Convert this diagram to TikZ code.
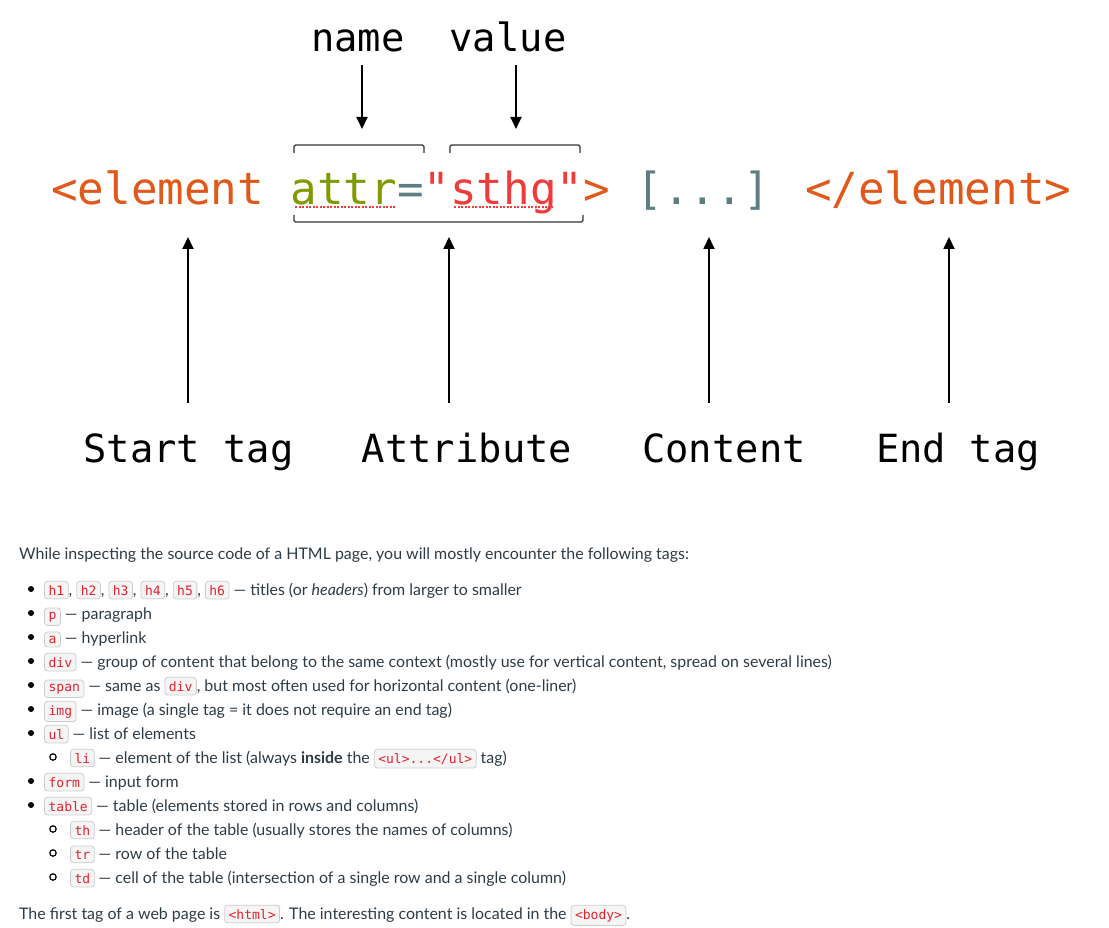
\documentclass[tikz,border=0pt]{standalone}
\usepackage{fontspec}
\setmainfont{Lato}
\newfontfamily\codefont{DejaVu Sans Mono}
\usetikzlibrary{arrows.meta}
\definecolor{tagorange}{HTML}{E0591A}
\definecolor{attrgreen}{HTML}{7E9C00}
\definecolor{valred}{HTML}{F03B3B}
\definecolor{punct}{HTML}{5E7E84}
\definecolor{bodytext}{HTML}{2D3B45}
\definecolor{chipred}{HTML}{E3212B}
\definecolor{chipfill}{HTML}{F5F5F5}
\definecolor{chipline}{HTML}{CDCDCD}
\definecolor{brk}{HTML}{333333}
\tikzset{
  chipbox/.style={draw=chipline, fill=chipfill, rounded corners=3pt, line width=0.8pt,
    inner xsep=4pt, inner ysep=3.8pt, outer sep=0pt, text=chipred},
  bodyline/.style={anchor=base west, inner sep=0pt, text=bodytext, font=\fontsize{15.95}{20}\selectfont},
  biglabel/.style={anchor=base, inner sep=0pt, font=\codefont\fontsize{38.8}{46}\selectfont},
  uparr/.style={line width=1.8pt, -{Triangle[length=12pt,width=11pt]}},
  brack/.style={draw=brk, line width=1.3pt, rounded corners=1.5pt},
  squig/.style={draw=valred, line width=1.3pt, dash pattern=on 2pt off 1.5pt},
}
\newcommand\chip[1]{\tikz[baseline=(chipn.base)]\node[chipbox](chipn){\codefont\fontsize{13}{15}\selectfont #1};}
\begin{document}
\begin{tikzpicture}[x=1pt,y=-1pt]
\useasboundingbox[fill=white] (0,0) rectangle (1109,928);

% top labels
\node[biglabel] (name) at (358,52) {name};
\node[biglabel] (value) at (508,52) {value};
\coordinate (nameT) at (362,65);
\coordinate (nameH) at (362,129);
\coordinate (valT) at (516,65);
\coordinate (valH) at (516,129);
\draw[uparr] (nameT) -- (nameH);
\draw[uparr] (valT) -- (valH);

% brackets
\draw[brack] (294,153) -- (294,145) -- (424,145) -- (424,153);
\draw[brack] (450,153) -- (450,145) -- (580,145) -- (580,153);
\draw[brack] (294,215) -- (294,222) -- (583,222) -- (583,215);

% main code line
\node[anchor=base west, inner sep=0pt, font=\codefont\fontsize{44.2}{50}\selectfont] (code) at (51,205)
  {\textcolor{tagorange}{<element} \textcolor{attrgreen}{attr}\textcolor{punct}{=}\textcolor{valred}{"sthg"}\textcolor{tagorange}{>} \textcolor{punct}{[...]} \textcolor{tagorange}{</element>}};
\draw[squig] (295,207) -- (395,207);
\draw[squig] (454,207) -- (553,207);

% bottom labels
\node[biglabel] (start) at (188.5,462) {Start tag};
\node[biglabel] (attrib) at (467,462) {Attribute};
\node[biglabel] (content) at (724,462) {Content};
\node[biglabel] (endtag) at (958,462) {End tag};
\coordinate (s1) at (188,403); \coordinate (e1) at (188,237);
\coordinate (s2) at (449,403); \coordinate (e2) at (449,237);
\coordinate (s3) at (709,403); \coordinate (e3) at (709,237);
\coordinate (s4) at (949,403); \coordinate (e4) at (949,237);
\draw[uparr] (s1) -- (e1);
\draw[uparr] (s2) -- (e2);
\draw[uparr] (s3) -- (e3);
\draw[uparr] (s4) -- (e4);

% text block
\node[bodyline] (intro) at (19,559) {While inspecting the source code of a HTML page, you will mostly encounter the following tags:};

\foreach \yy in {589,613,637,661,685,709,733,781,805} \fill[black] (31,\yy) circle (3pt);
\foreach \yy in {757,829,853,877} \draw[black, line width=1.2pt] (53,\yy) circle (3.2pt);

\node[bodyline] (l1) at (44,595) {\chip{h1}, \chip{h2}, \chip{h3}, \chip{h4}, \chip{h5}, \chip{h6} — titles (or \textit{headers}) from larger to smaller};
\node[bodyline] (l2) at (44,619) {\chip{p} — paragraph};
\node[bodyline] (l3) at (44,643) {\chip{a} — hyperlink};
\node[bodyline] (l4) at (44,667) {\chip{div} — group of content that belong to the same context (mostly use for vertical content, spread on several lines)};
\node[bodyline] (l5) at (44,691) {\chip{span} — same as \chip{div}, but most often used for horizontal content (one-liner)};
\node[bodyline] (l6) at (44,715) {\chip{img} — image (a single tag = it does not require an end tag)};
\node[bodyline] (l7) at (44,739) {\chip{ul} — list of elements};
\node[bodyline] (l8) at (70,763) {\chip{li} — element of the list (always \textbf{inside} the \chip{<ul>...</ul>} tag)};
\node[bodyline] (l9) at (44,787) {\chip{form} — input form};
\node[bodyline] (l10) at (44,811) {\chip{table} — table (elements stored in rows and columns)};
\node[bodyline] (l11) at (70,835) {\chip{th} — header of the table (usually stores the names of columns)};
\node[bodyline] (l12) at (70,859) {\chip{tr} — row of the table};
\node[bodyline] (l13) at (70,883) {\chip{td} — cell of the table (intersection of a single row and a single column)};
\node[bodyline] (last) at (19,919) {The first tag of a web page is \chip{<html>}. The interesting content is located in the \chip{<body>}.};
\end{tikzpicture}
\end{document}
